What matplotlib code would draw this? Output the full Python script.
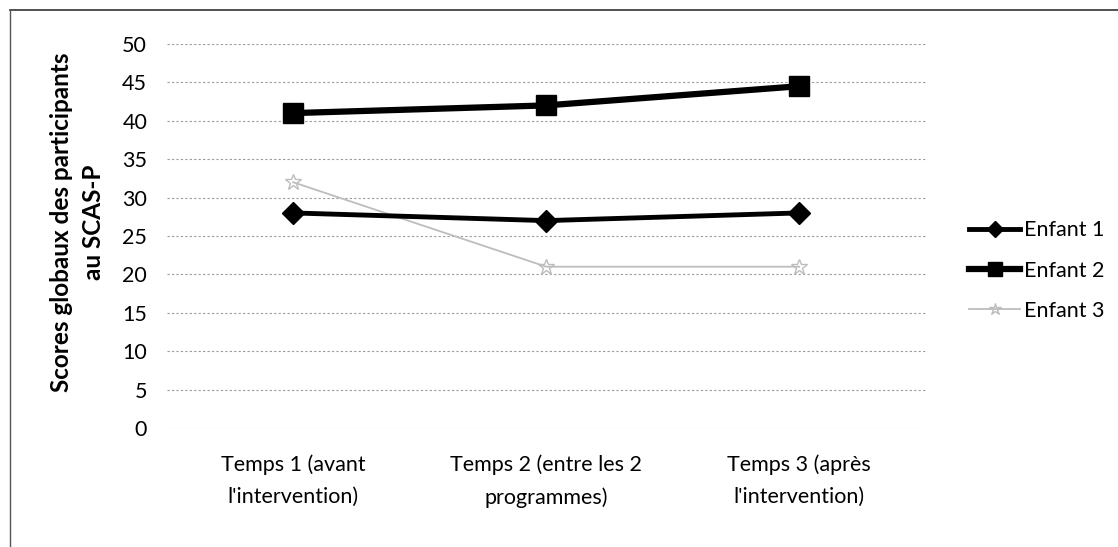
import matplotlib.pyplot as plt
import matplotlib.lines as mlines

temps = ["Temps 1 (avant\nl'intervention)",
         "Temps 2 (entre les 2\nprogrammes)",
         "Temps 3 (après\nl'intervention)"]
enfant_1 = [28, 27, 28]
enfant_2 = [41, 42, 44.5]
enfant_3 = [32, 21, 21]
y_ticks = list(range(0, 51, 5))

plt.rcParams['font.family'] = ['Lato', 'DejaVu Sans']

fig = plt.figure(figsize=(11.18, 5.47), dpi=100)
ax = fig.add_axes([0.149, 0.2176, 0.679, 0.702])

x = list(range(len(temps)))
ax.plot(x, enfant_1, color='black', lw=3.5, marker='D', markersize=11,
        label='Enfant 1', zorder=3)
ax.plot(x, enfant_2, color='black', lw=4.5, marker='s', markersize=14,
        label='Enfant 2', zorder=3)
ax.plot(x, enfant_3, color='#bdbdbd', lw=1.3, marker='*', markersize=12,
        markerfacecolor='none', markeredgecolor='#bdbdbd', label='Enfant 3', zorder=2)

ax.set_xlim(-0.5, 2.5)
ax.set_ylim(0, 50)
ax.set_yticks(y_ticks)
ax.set_xticks(x)
ax.set_xticklabels(temps, fontsize=15.5, linespacing=1.75)
ax.tick_params(axis='both', length=0, labelsize=15.5)
ax.tick_params(axis='y', pad=14)
ax.tick_params(axis='x', pad=19)
ax.yaxis.grid(True, color='#9a9a9a', lw=0.8, ls=(0, (2, 2)))
for s in ax.spines.values():
    s.set_visible(False)

ax.set_ylabel('Scores globaux des participants\nau SCAS-P', fontsize=17.5,
              fontweight='bold', labelpad=12, linespacing=1.5)
ax.yaxis.label.set_y(0.535)

leg = ax.legend(loc='center left', bbox_to_anchor=(1.0, 0.41), frameon=False,
                fontsize=15.5, handlelength=2.4, handletextpad=0.15,
                labelspacing=0.95, borderaxespad=1.6, markerscale=0.75)

# cadre autour du graphique
fig.add_artist(mlines.Line2D([0.009, 1.0], [0.982, 0.982], color='#333333',
                             lw=1.2, transform=fig.transFigure))
fig.add_artist(mlines.Line2D([0.009, 0.009], [0.0, 0.982], color='#555555',
                             lw=1.0, transform=fig.transFigure))

fig.savefig('out.png', dpi=100)
